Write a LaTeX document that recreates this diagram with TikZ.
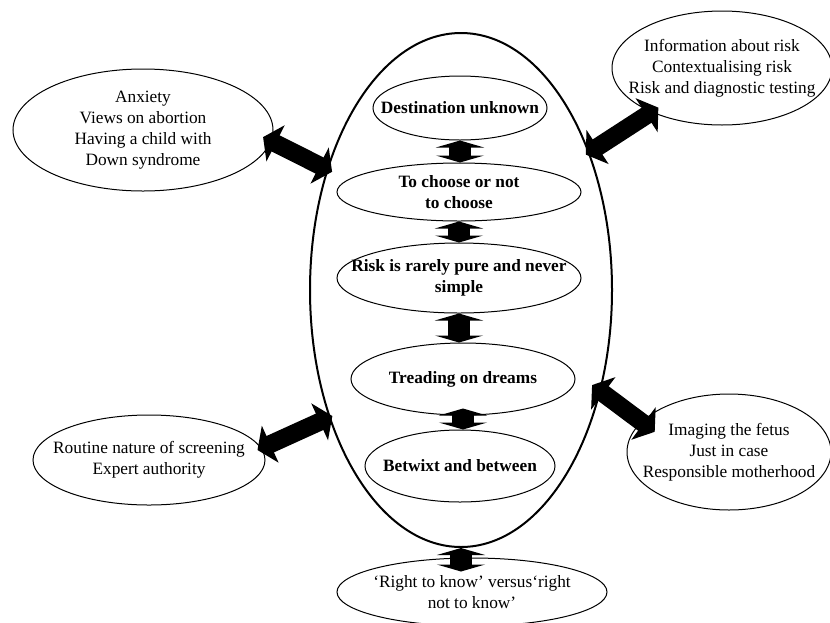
\documentclass[tikz,border=0pt]{standalone}
\usepackage{fontspec}
\setmainfont{Liberation Serif}
\usetikzlibrary{arrows.meta,shapes.geometric}

\begin{document}
\begin{tikzpicture}[
        x=0.5pt, y=-0.5pt,
        font=\fontsize{8.65}{10.5}\selectfont,
        % Style for the large ellipse holding the themes
        core/.style={ellipse, draw, line width=1pt, inner sep=0pt},
        % Style for the themes inside the large ellipse (negative inner sep so the minimum size sets the ellipse)
        theme/.style={ellipse, draw, line width=0.5pt, inner xsep=-12pt, inner ysep=-4pt, align=center, font=\fontsize{8.65}{10.5}\selectfont\bfseries},
        % Style for the factors around it
        factor/.style={ellipse, draw, line width=0.5pt, inner xsep=-12pt, inner ysep=-4pt, align=center},
        % Block arrows
        bigarrow/.style={line width=9pt, {Triangle[width=20pt,length=7pt]}-{Triangle[width=20pt,length=7pt]}},
        smallarrow/.style={line width=11pt, {Triangle[width=24pt,length=3.5pt]}-{Triangle[width=24pt,length=3.5pt]}}
    ]
        \useasboundingbox (0,0) rectangle (830,622);

        % 1. Large ellipse and the themes inside it
        \node[core, minimum width=151pt, minimum height=257pt] (big) at (461,290) {};
        \node[theme, minimum width=87pt, minimum height=32pt] (dest) at (460,108) {Destination unknown};
        \node[theme, minimum width=122pt, minimum height=29pt] (choose) at (459,192) {To choose or not\\to choose};
        \node[theme, minimum width=122pt, minimum height=35pt] (risk) at (459,278) {Risk is rarely pure and never\\simple};
        \node[theme, minimum width=112pt, minimum height=36pt] (tread) at (463,379) {Treading on dreams};
        \node[theme, minimum width=95pt, minimum height=36pt] (betw) at (460,466) {Betwixt and between};

        % 2. Factors around the large ellipse
        \node[factor, minimum width=130pt, minimum height=61pt] (anx) at (143,130) {Anxiety\\Views on abortion\\Having a child with\\Down syndrome};
        \node[factor, minimum width=110pt, minimum height=57pt] (info) at (722,68) {Information about risk\\Contextualising risk\\Risk and diagnostic testing};
        \node[factor, minimum width=116pt, minimum height=45pt] (routine) at (149,460) {Routine nature of screening\\Expert authority};
        \node[factor, minimum width=102pt, minimum height=58pt] (imaging) at (729,452) {Imaging the fetus\\Just in case\\Responsible motherhood};
        \node[factor, minimum width=135pt, minimum height=34pt] (know) at (472,592) {`Right to know' versus`right\\not to know'};

        % 3. Arrows between the themes
        \draw[smallarrow] (dest.south) -- (dest.south |- choose.north);
        \draw[smallarrow] (choose.south) -- (choose.south |- risk.north);
        \draw[smallarrow] (risk.south) -- (risk.south |- tread.north);
        \draw[smallarrow, shorten <=-3.5pt] (tread.south) -- (tread.south |- betw.north);
        \draw[smallarrow, shorten >=-7pt] (big.south) -- (big.south |- know.north);

        % 4. Arrows to the factors
        \draw[bigarrow, shorten <=-4.6pt, shorten >=-3pt] (anx.-5) -- (big.138);
        \draw[bigarrow, shorten <=-2.2pt, shorten >=-4.2pt] (big.47) -- (info.-148);
        \draw[bigarrow, shorten <=-2.2pt, shorten >=-1.9pt] (routine.6) -- (big.-136);
        \draw[bigarrow, shorten <=-5.4pt, shorten >=-8.4pt] (big.-36) -- (imaging.161);

    \end{tikzpicture}
\end{document}
